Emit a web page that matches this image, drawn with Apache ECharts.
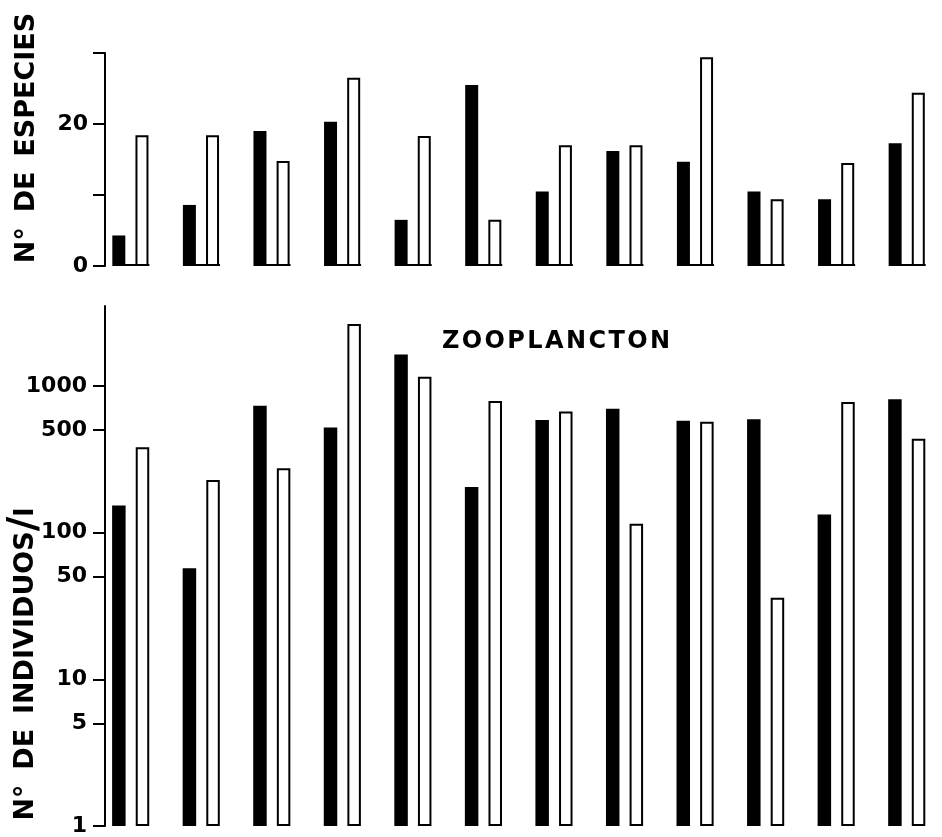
<!DOCTYPE html>
<html><head><meta charset="utf-8">
<script src="https://cdn.jsdelivr.net/npm/echarts@6/dist/echarts.min.js"></script>
<style>html,body{margin:0;padding:0;background:#fff;}#c{width:942px;height:837px;}</style>
</head><body><div id="c"></div>
<script>
// Categories (12 sampling groups)
const categories = ['1','2','3','4','5','6','7','8','9','10','11','12'];
// Nº de especies
const speciesBlack = [4.3, 8.6, 19.0, 20.3, 6.5, 25.5, 10.5, 16.2, 14.7, 10.5, 9.4, 17.3];
const speciesWhite = [18.4, 18.4, 14.8, 26.5, 18.3, 6.5, 17.0, 17.0, 29.4, 9.4, 14.5, 24.4];
// Nº de individuos / l (log scale)
const indivBlack = [153, 57, 731, 519, 1635, 204, 584, 698, 578, 593, 133, 811];
const indivWhite = [382, 228, 274, 2640, 1151, 789, 668, 115, 568, 36, 776, 436];
// Ticks
const speciesTicks = [0, 10, 20, 30];
const speciesLabels = [0, 20];
const indivTicks = [1, 5, 10, 50, 100, 500, 1000];

const FONT = 'DejaVu Sans';
const chart = echarts.init(document.getElementById('c'));
const axisCommon = {
  axisLine: {show: true, lineStyle: {color: '#000', width: 2}},
  splitLine: {show: false}
};
const labelStyle = {color: '#000', fontFamily: FONT, fontWeight: 'bold', fontSize: 22};

const option = {
  animation: false,
  backgroundColor: '#fff',
  grid: [
    {left: 95.1, top: 53, width: 861.6, height: 213},
    {left: 95.4, top: 306, width: 854.4, height: 528}
  ],
  xAxis: [
    {type: 'category', gridIndex: 0, data: categories, show: false},
    {type: 'category', gridIndex: 1, data: categories, show: false}
  ],
  yAxis: [
    Object.assign({
      type: 'value', gridIndex: 0, min: 0, max: 30, offset: -9.9,
      axisTick: {show: true, length: 12, lineStyle: {color: '#000', width: 2}, customValues: speciesTicks},
      axisLabel: Object.assign({customValues: speciesLabels, margin: 17}, labelStyle)
    }, axisCommon),
    Object.assign({
      type: 'log', logBase: 10, gridIndex: 1, min: 1, max: 3500, offset: -9.6,
      axisTick: {show: true, length: 12, lineStyle: {color: '#000', width: 2}, customValues: indivTicks},
      axisLabel: Object.assign({customValues: indivTicks, margin: 18, formatter: v => String(Math.round(v))}, labelStyle)
    }, axisCommon)
  ],
  series: [
    {type: 'custom', xAxisIndex: 0, yAxisIndex: 0, z: 1,
      data: categories.map((c, i) => [i, 0]),
      renderItem: (params, api) => {
        const p = api.coord([api.value(0), api.value(1)]);
        return {type: 'line', shape: {x1: p[0] - 17, y1: p[1] - 1, x2: p[0] + 19, y2: p[1] - 1},
          style: {stroke: '#000', lineWidth: 2}};
      }},
    {type: 'bar', xAxisIndex: 0, yAxisIndex: 0, data: speciesBlack, barWidth: 13, barGap: '78%',
      itemStyle: {color: '#000'}, z: 2},
    {type: 'bar', xAxisIndex: 0, yAxisIndex: 0, data: speciesWhite, barWidth: 13, barGap: '78%',
      itemStyle: {color: '#fff', borderColor: '#000', borderWidth: 2}, z: 2},
    {type: 'bar', xAxisIndex: 1, yAxisIndex: 1, data: indivBlack, barWidth: 13.5, barGap: '75%',
      itemStyle: {color: '#000'}},
    {type: 'bar', xAxisIndex: 1, yAxisIndex: 1, data: indivWhite, barWidth: 13.5, barGap: '75%',
      itemStyle: {color: '#fff', borderColor: '#000', borderWidth: 2}}
  ],
  graphic: [
    {type: 'text', x: 27, y: 138, rotation: Math.PI / 2,
      style: {text: 'N°\u2009 DE\u2009 ESPECIES', font: 'bold 27px "DejaVu Sans"', fill: '#000',
        textAlign: 'center', textVerticalAlign: 'middle'}},
    {type: 'text', x: 26, y: 664, rotation: Math.PI / 2,
      style: {text: '{a|N°\u2009 DE\u2009 INDIVIDUOS}{b|/}{a|l}', fill: '#000',
        textAlign: 'center', textVerticalAlign: 'middle',
        rich: {a: {font: 'bold 27px "DejaVu Sans"', fill: '#000'},
               b: {font: 'bold 40px "DejaVu Sans"', fill: '#000'}}}},
    {type: 'text', x: 556, y: 342,
      style: {text: 'Z\u200aO\u200aO\u200aP\u200aL\u200aA\u200aN\u200aC\u200aT\u200aO\u200aN', font: 'bold 24px "DejaVu Sans"', fill: '#000',
        textAlign: 'center', textVerticalAlign: 'middle'}}
  ]
};
chart.setOption(option);
</script></body></html>
